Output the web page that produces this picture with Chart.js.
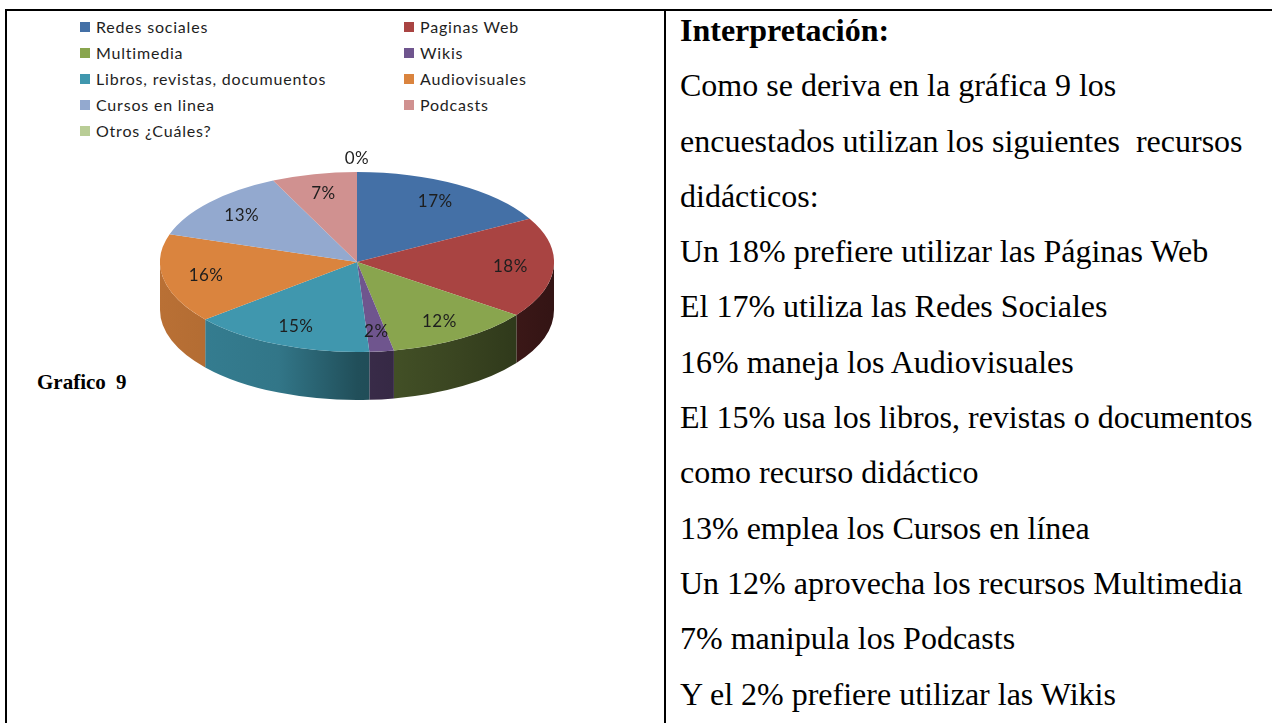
<!DOCTYPE html>
<html>
<head>
<meta charset="utf-8">
<script src="https://cdn.jsdelivr.net/npm/chart.js@4.4.0/dist/chart.umd.min.js"></script>
<style>
  body { margin: 0; width: 1272px; height: 723px; background: #fff; position: relative; overflow: hidden; }
  .rule { position: absolute; background: #000; }
  .item { position: absolute; height: 20px; line-height: 20px; font: 16px Lato, sans-serif; letter-spacing: 0.8px; color: #1e1e1e; white-space: nowrap; padding-left: 16px; }
  .item span { position: absolute; left: 0; top: 5px; width: 10px; height: 10px; }
  #pie { position: absolute; left: 160px; top: 65px; }
  #caption { position: absolute; left: 37px; top: 370px; font: bold 21px "Liberation Serif", serif; word-spacing: 5px; }
  #notes { position: absolute; left: 680px; top: 3px; font: 32px "Liberation Serif", serif; color: #000; }
  #notes div { height: 55.3px; line-height: 55.3px; white-space: pre; }
</style>
</head>
<body>
<div class="rule" style="left:5px; top:9px; width:1267px; height:2px;"></div>
<div class="rule" style="left:5px; top:9px; width:2px; height:714px;"></div>
<div class="rule" style="left:664px; top:9px; width:2px; height:714px;"></div>

<div id="legend"></div>
<canvas id="pie" width="394" height="394"></canvas>
<div id="caption">Grafico 9</div>

<div id="notes">
  <div><b>Interpretación:</b></div>
  <div>Como se deriva en la gráfica 9 los</div>
  <div>encuestados utilizan los siguientes  recursos</div>
  <div>didácticos:</div>
  <div>Un 18% prefiere utilizar las Páginas Web</div>
  <div>El 17% utiliza las Redes Sociales</div>
  <div>16% maneja los Audiovisuales</div>
  <div>El 15% usa los libros, revistas o documentos</div>
  <div>como recurso didáctico</div>
  <div>13% emplea los Cursos en línea</div>
  <div>Un 12% aprovecha los recursos Multimedia</div>
  <div>7% manipula los Podcasts</div>
  <div>Y el 2% prefiere utilizar las Wikis</div>
</div>

<script>
const labels = ['Redes sociales', 'Paginas Web', 'Multimedia', 'Wikis', 'Libros, revistas, documuentos',
                'Audiovisuales', 'Cursos en linea', 'Podcasts', 'Otros ¿Cuáles?'];
const values = [17, 18, 12, 2, 15, 16, 13, 7, 0];
const colors = ['#4470A6', '#A94442', '#89A54E', '#6F558E', '#4097AE', '#DA843E', '#93A9CF', '#D09190', '#B9CD96'];

const squash = 0.457;  // flattening of the pie top
const depth = 48;      // height of the pie side

// legend in two columns, like the office chart
const legend = document.getElementById('legend');
labels.forEach((name, i) => {
    const el = document.createElement('div');
    el.className = 'item';
    el.style.left = (i % 2 ? 404 : 80) + 'px';
    el.style.top = (17 + Math.floor(i / 2) * 26) + 'px';
    el.innerHTML = '<span style="background:' + colors[i] + '"></span>' + name;
    legend.appendChild(el);
});

function shade(hex, f) {
    const n = parseInt(hex.slice(1), 16);
    const r = Math.round(((n >> 16) & 255) * f);
    const g = Math.round(((n >> 8) & 255) * f);
    const b = Math.round((n & 255) * f);
    return 'rgb(' + r + ',' + g + ',' + b + ')';
}

// fake 3D: draw the front sides, then squash the top face
const pie3d = {
    id: 'pie3d',
    beforeDatasetsDraw(chart) {
        const ctx = chart.ctx;
        const arcs = chart.getDatasetMeta(0).data;
        arcs.forEach((arc, i) => {
            const a = Math.max(arc.startAngle, 0);
            const b = Math.min(arc.endAngle, Math.PI);
            if (b <= a) return;
            const r = arc.outerRadius;
            const g = ctx.createLinearGradient(arc.x - r, 0, arc.x + r, 0);
            g.addColorStop(0, shade(colors[i], 0.85));
            g.addColorStop(0.3, shade(colors[i], 0.78));
            g.addColorStop(0.5, shade(colors[i], 0.52));
            g.addColorStop(0.75, shade(colors[i], 0.42));
            g.addColorStop(1, shade(colors[i], 0.3));
            ctx.beginPath();
            ctx.ellipse(arc.x, arc.y, r, r * squash, 0, a, b);
            ctx.ellipse(arc.x, arc.y + depth, r, r * squash, 0, b, a, true);
            ctx.closePath();
            ctx.fillStyle = g;
            ctx.fill();
        });
        const c = arcs[0];
        ctx.save();
        ctx.translate(c.x, c.y);
        ctx.scale(1, squash);
        ctx.translate(-c.x, -c.y);
    },
    afterDatasetsDraw(chart) {
        const ctx = chart.ctx;
        ctx.restore();
        const arcs = chart.getDatasetMeta(0).data;
        const total = values.reduce((s, v) => s + v, 0);
        ctx.save();
        ctx.font = '17px Lato, sans-serif';
        ctx.letterSpacing = '0.5px';
        ctx.fillStyle = '#1e1e1e';
        ctx.textAlign = 'center';
        ctx.textBaseline = 'middle';
        arcs.forEach((arc, i) => {
            const mid = (arc.startAngle + arc.endAngle) / 2;
            const r = arc.outerRadius;
            let lx, ly;
            if (values[i] === 0) {
                lx = arc.x + r * Math.cos(mid);
                ly = arc.y + r * squash * Math.sin(mid) - 13;
            } else {
                lx = arc.x + 0.78 * r * Math.cos(mid);
                ly = arc.y + 0.78 * r * squash * Math.sin(mid);
            }
            ctx.fillText(Math.round(values[i] / total * 100) + '%', lx, ly);
        });
        ctx.restore();
    }
};

new Chart(document.getElementById('pie'), {
    type: 'pie',
    data: {
        labels: labels,
        datasets: [{
            data: values,
            backgroundColor: colors,
            borderWidth: 0,
            clip: false
        }]
    },
    options: {
        responsive: false,
        animation: false,
        events: [],
        plugins: {
            legend: { display: false },
            tooltip: { enabled: false }
        }
    },
    plugins: [pie3d]
});
</script>
</body>
</html>
